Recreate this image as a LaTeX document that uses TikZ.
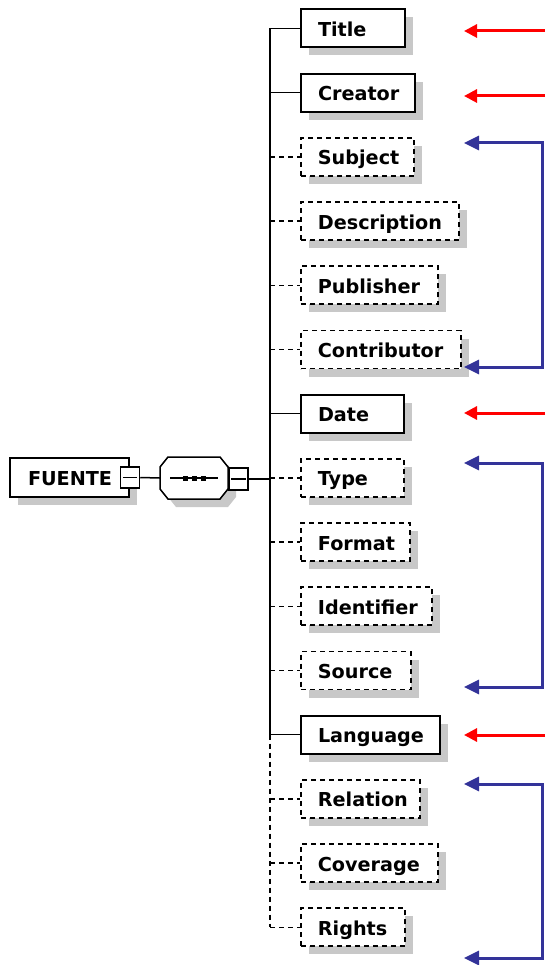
\documentclass[tikz,border=0pt]{standalone}
\usepackage{fontspec}
\setsansfont{DejaVu Sans}
\usetikzlibrary{arrows.meta,shadows}
\definecolor{shgray}{RGB}{200,200,200}
\definecolor{brblue}{RGB}{51,51,153}
\definecolor{arred}{RGB}{255,0,0}
\newcommand\eltxt[2]{\makebox[#1pt][l]{#2}}
\begin{document}
\begin{tikzpicture}[x=1pt,y=-1pt,
  elem/.style={draw, fill=white, line width=2pt, anchor=west, minimum height=38pt,
    inner xsep=17pt, inner ysep=0pt, text height=16pt, text depth=0pt,
    font=\fontsize{19.2}{22}\selectfont\sffamily\bfseries,
    general shadow={fill=shgray, shadow xshift=8pt, shadow yshift=-8pt}},
  opt/.style={elem, dash pattern=on 5pt off 4pt, line width=1.8pt},
  minusbox/.style={draw, fill=white, line width=1.5pt, minimum width=19pt, minimum height=21pt, inner sep=0pt},
  conn/.style={line width=1.5pt},
  optconn/.style={line width=1.5pt, dash pattern=on 5pt off 4pt},
  redarrow/.style={arred, line width=3pt, -{Triangle[length=13pt,width=13pt]}},
  bluebracket/.style={brblue, line width=3pt, {Triangle[length=15pt,width=14pt]}-{Triangle[length=15pt,width=14pt]}}
]
\useasboundingbox (0,0) rectangle (546,965);
\fill[white] (0,0) rectangle (546,965);

% root element
\node[elem, inner xsep=18pt, minimum height=39pt] (fuente) at (9,477.5) {\eltxt{83}{FUENTE}};
\node[minusbox] (fminus) at (fuente.east) {};
\draw[conn] ([xshift=3pt]fminus.west) -- ([xshift=-3pt]fminus.east);

% sequence compositor
\node[minimum width=68pt, minimum height=42pt, inner sep=0pt] (seq) at (194,478) {};
\fill[shgray, shift={(8,8)}] (168,457) -- (220,457) -- (228,467) -- (228,489) -- (220,499) -- (168,499) -- (160,489) -- (160,467) -- cycle;
\draw[line width=1.5pt, fill=white] (168,457) -- (220,457) -- (228,467) -- (228,489) -- (220,499) -- (168,499) -- (160,489) -- (160,467) -- cycle;
\draw[line width=1.5pt] (170,478) -- (218,478);
\foreach \dx in {185,194,203} \fill (\dx-2.5,475.5) rectangle (\dx+2.5,480.5);
\node[minusbox, minimum height=22pt] (sminus) at (238.5,479) {};
\draw[conn] ([xshift=3pt]sminus.west) -- ([xshift=-3pt]sminus.east);
\draw[conn] (fminus.east) -- (seq.west);

% children
\node[elem] (title)       at (300, 28.5) {\eltxt{70}{Title}};
\node[elem] (creator)     at (300, 92.7) {\eltxt{80}{Creator}};
\node[opt]  (subject)     at (300,156.9) {\eltxt{79}{Subject}};
\node[opt]  (description) at (300,221.1) {\eltxt{124}{Description}};
\node[opt]  (publisher)   at (300,285.3) {\eltxt{103}{Publisher}};
\node[opt]  (contributor) at (300,349.5) {\eltxt{126}{Contributor}};
\node[elem] (date)        at (300,413.7) {\eltxt{69}{Date}};
\node[opt]  (type)        at (300,477.9) {\eltxt{69}{Type}};
\node[opt]  (format)      at (300,542.1) {\eltxt{75}{Format}};
\node[opt]  (identifier)  at (300,606.3) {\eltxt{97}{Identifier}};
\node[opt]  (source)      at (300,670.5) {\eltxt{76}{Source}};
\node[elem] (language)    at (300,734.7) {\eltxt{105}{Language}};
\node[opt]  (relation)    at (300,798.9) {\eltxt{85}{Relation}};
\node[opt]  (coverage)    at (300,863.1) {\eltxt{103}{Coverage}};
\node[opt]  (rights)      at (300,927.3) {\eltxt{70}{Rights}};

% spine
\coordinate (spine) at (270,0);
\draw[conn] (title.west -| spine) -- (language.west -| spine);
\draw[optconn] (language.west -| spine) -- (rights.west -| spine);
\draw[conn] (sminus.east) -- (sminus.east -| spine);
\foreach \n in {title,creator,date,language}
  \draw[conn] (\n.west -| spine) -- (\n.west);
\foreach \n in {subject,description,publisher,contributor,type,format,identifier,source,relation,coverage,rights}
  \draw[optconn] (\n.west -| spine) -- (\n.west);

% red arrows
\coordinate (rt1) at (545,31);  \coordinate (rh1) at (464,31);
\coordinate (rt2) at (545,96);  \coordinate (rh2) at (464,96);
\coordinate (rt3) at (545,413); \coordinate (rh3) at (464,413);
\coordinate (rt4) at (545,735); \coordinate (rh4) at (464,735);
\foreach \i in {1,2,3,4} \draw[redarrow] (rt\i) -- (rh\i);

% blue brackets
\coordinate (ba1) at (464,143); \coordinate (bb1) at (464,367);
\coordinate (ba2) at (464,463); \coordinate (bb2) at (464,687);
\coordinate (ba3) at (464,784); \coordinate (bb3) at (464,958);
\coordinate (bx) at (542,0);
\foreach \i in {1,2,3}
  \draw[bluebracket] (ba\i) -- (ba\i -| bx) -- (bb\i -| bx) -- (bb\i);
\end{tikzpicture}
\end{document}
